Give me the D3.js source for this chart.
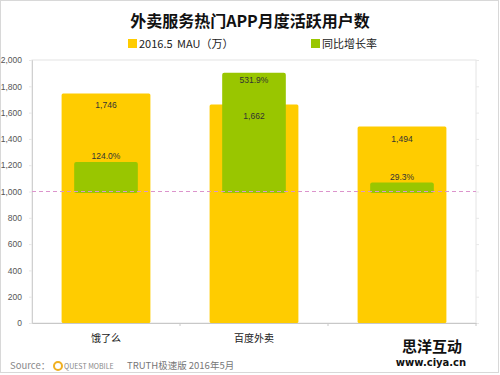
<!DOCTYPE html>
<html>
<head>
<meta charset="utf-8">
<script src="https://cdn.jsdelivr.net/npm/d3@7"></script>
<style>
  body { margin: 0; background: #fff; }
  text { font-family: "Noto Sans CJK SC", "Noto Sans", sans-serif; }
</style>
</head>
<body>
<div id="chart"></div>
<script>
// data
apps = ["饿了么", "百度外卖", "美团外卖"]
mau = [1746, 1662, 1494]
growth = [124.0, 531.9, 29.3]
yTicks = [0, 200, 400, 600, 800, 1000, 1200, 1400, 1600, 1800, 2000]

W = 500, H = 375
margin = {top: 60, right: 24, bottom: 52, left: 32}
width = W - margin.left - margin.right,
height = H - margin.top - margin.bottom

root = d3.select("#chart").append("svg")
  .attr("width", W)
  .attr("height", H)

// outer frame
root.append("rect")
  .attr("x", 0.5).attr("y", 0.5)
  .attr("width", W - 2).attr("height", H - 3)
  .attr("fill", "none")
  .attr("stroke", "#d8d8d8")

// title
root.append("text")
  .attr("x", 250).attr("y", 27)
  .attr("text-anchor", "middle")
  .style("font-size", "16px")
  .style("font-weight", "bold")
  .attr("fill", "#111")
  .text("外卖服务热门APP月度活跃用户数")

// legend
legend = [
  {label: "2016.5  MAU（万）", color: "#FFCC00", x: 128},
  {label: "同比增长率", color: "#99C600", x: 311}
]
lg = root.append("g").selectAll("g").data(legend).join("g")
  .attr("transform", d => `translate(${d.x}, 39)`)
lg.append("rect").attr("width", 9).attr("height", 9).attr("fill", d => d.color)
lg.append("text")
  .attr("x", 11).attr("y", 9)
  .style("font-size", "11px")
  .style("word-spacing", "2px")
  .attr("fill", "#222")
  .text(d => d.label)

svg = root.append("g")
  .attr("transform", `translate(${margin.left}, ${margin.top})`)

x = d3.scaleBand().domain(apps).range([0, width])
y = d3.scaleLinear().domain([0, 2000]).range([height, 0])
// secondary axis for growth rate (hidden), baseline at the 1,000 line
y2 = d3.scaleLinear().domain([0, 600]).range([129, -2])

// plot frame
svg.append("rect")
  .attr("width", width).attr("height", height)
  .attr("fill", "none")
  .attr("stroke", "#e4e4e4")

// y axis
yAxis = svg.append("g")
  .call(d3.axisLeft(y).tickValues(yTicks).tickSize(3).tickFormat(d3.format(",")))
yAxis.select(".domain").attr("stroke", "#d0d0d0")
yAxis.selectAll(".tick line").attr("stroke", "#e8e8e8")
yAxis.selectAll("text")
  .attr("x", -10)
  .style("font-size", "8.5px")
  .style("font-family", "'Liberation Sans', sans-serif")
  .attr("fill", "#555")

// right tick marks
svg.append("g")
  .attr("transform", `translate(${width}, 0)`)
  .call(d3.axisRight(y).tickValues(yTicks).tickSize(3).tickFormat(""))
  .call(g => g.select(".domain").remove())
  .selectAll("line").attr("stroke", "#e8e8e8")

// yellow bars
svg.selectAll(".mau")
  .data(apps)
  .join("rect")
    .attr("class", "mau")
    .attr("x", (d, i) => x(d) + x.bandwidth() * 0.2)
    .attr("y", (d, i) => y(mau[i]))
    .attr("width", x.bandwidth() * 0.6)
    .attr("height", (d, i) => height - y(mau[i]))
    .attr("rx", 1.5)
    .attr("fill", "#FFCC00")

// green bars
svg.selectAll(".growth")
  .data(apps)
  .join("rect")
    .attr("class", "growth")
    .attr("x", (d, i) => x(d) + x.bandwidth() * 0.285)
    .attr("y", (d, i) => y2(growth[i]))
    .attr("width", x.bandwidth() * 0.43)
    .attr("height", (d, i) => y2.range()[0] + 4 - y2(growth[i]))
    .attr("rx", 2)
    .attr("fill", "#99C600")

// dashed 1,000 line
svg.append("line")
  .attr("x1", 0).attr("x2", width)
  .attr("y1", y(1000)).attr("y2", y(1000))
  .attr("stroke", "#dc94cc")
  .attr("stroke-width", 1)
  .attr("stroke-dasharray", "4,3")

// mau labels
svg.selectAll(".mauLabel")
  .data(apps)
  .join("text")
    .attr("x", d => x(d) + x.bandwidth() / 2)
    .attr("y", (d, i) => y(mau[i]) + 15)
    .attr("text-anchor", "middle")
    .style("font-size", "8.5px")
    .style("font-family", "'Liberation Sans', sans-serif")
    .attr("fill", "#333")
    .text((d, i) => d3.format(",")(mau[i]))

// growth labels
svg.selectAll(".growthLabel")
  .data(apps)
  .join("text")
    .attr("x", d => x(d) + x.bandwidth() / 2)
    .attr("y", (d, i) => growth[i] > 400 ? y2(growth[i]) + 10 : y2(growth[i]) - 3)
    .attr("text-anchor", "middle")
    .style("font-size", "8.5px")
    .style("font-family", "'Liberation Sans', sans-serif")
    .attr("fill", "#333")
    .text((d, i) => growth[i].toFixed(1) + "%")

// x axis (third label is hidden under the watermark in the source image)
xAxis = svg.append("g")
  .attr("transform", `translate(0, ${height})`)
  .call(d3.axisBottom(x).tickSize(0).tickFormat((d, i) => i < 2 ? d : ""))
xAxis.select(".domain").attr("stroke", "#c8c8c8")
xAxis.selectAll("text")
  .attr("dy", "1.6em")
  .style("font-size", "10px")
  .attr("fill", "#222")
// category separators
svg.append("g").selectAll("line")
  .data(apps)
  .join("line")
    .attr("x1", d => x(d) + x.bandwidth()).attr("x2", d => x(d) + x.bandwidth())
    .attr("y1", height).attr("y2", height + 3)
    .attr("stroke", "#c8c8c8")

// watermark
wm = root.append("g")
wm.append("text")
  .attr("x", 432).attr("y", 352)
  .attr("text-anchor", "middle")
  .style("font-size", "15px")
  .style("font-weight", "bold")
  .attr("fill", "#111")
  .attr("stroke", "#fff").attr("stroke-width", 2).attr("paint-order", "stroke")
  .text("思洋互动")
wm.append("text")
  .attr("x", 431).attr("y", 366)
  .attr("text-anchor", "middle")
  .style("font-size", "10px")
  .style("font-weight", "bold")
  .style("font-family", "'DejaVu Sans', sans-serif")
  .attr("fill", "#111")
  .attr("stroke", "#fff").attr("stroke-width", 2).attr("paint-order", "stroke")
  .text("www.ciya.cn")

// source
src = root.append("g")
src.append("text")
  .attr("x", 10).attr("y", 369)
  .style("font-size", "9.5px")
  .attr("fill", "#888")
  .text("Source：")
src.append("circle")
  .attr("cx", 58).attr("cy", 366).attr("r", 4)
  .attr("fill", "none").attr("stroke", "#f0b020").attr("stroke-width", 2)
src.append("text")
  .attr("x", 64).attr("y", 369)
  .style("font-size", "7px")
  .attr("fill", "#888")
  .text("QUEST MOBILE")
src.append("text")
  .attr("x", 127).attr("y", 369)
  .style("font-size", "9.5px")
  .attr("fill", "#777")
  .text("TRUTH极速版 2016年5月")
</script>
</body>
</html>
